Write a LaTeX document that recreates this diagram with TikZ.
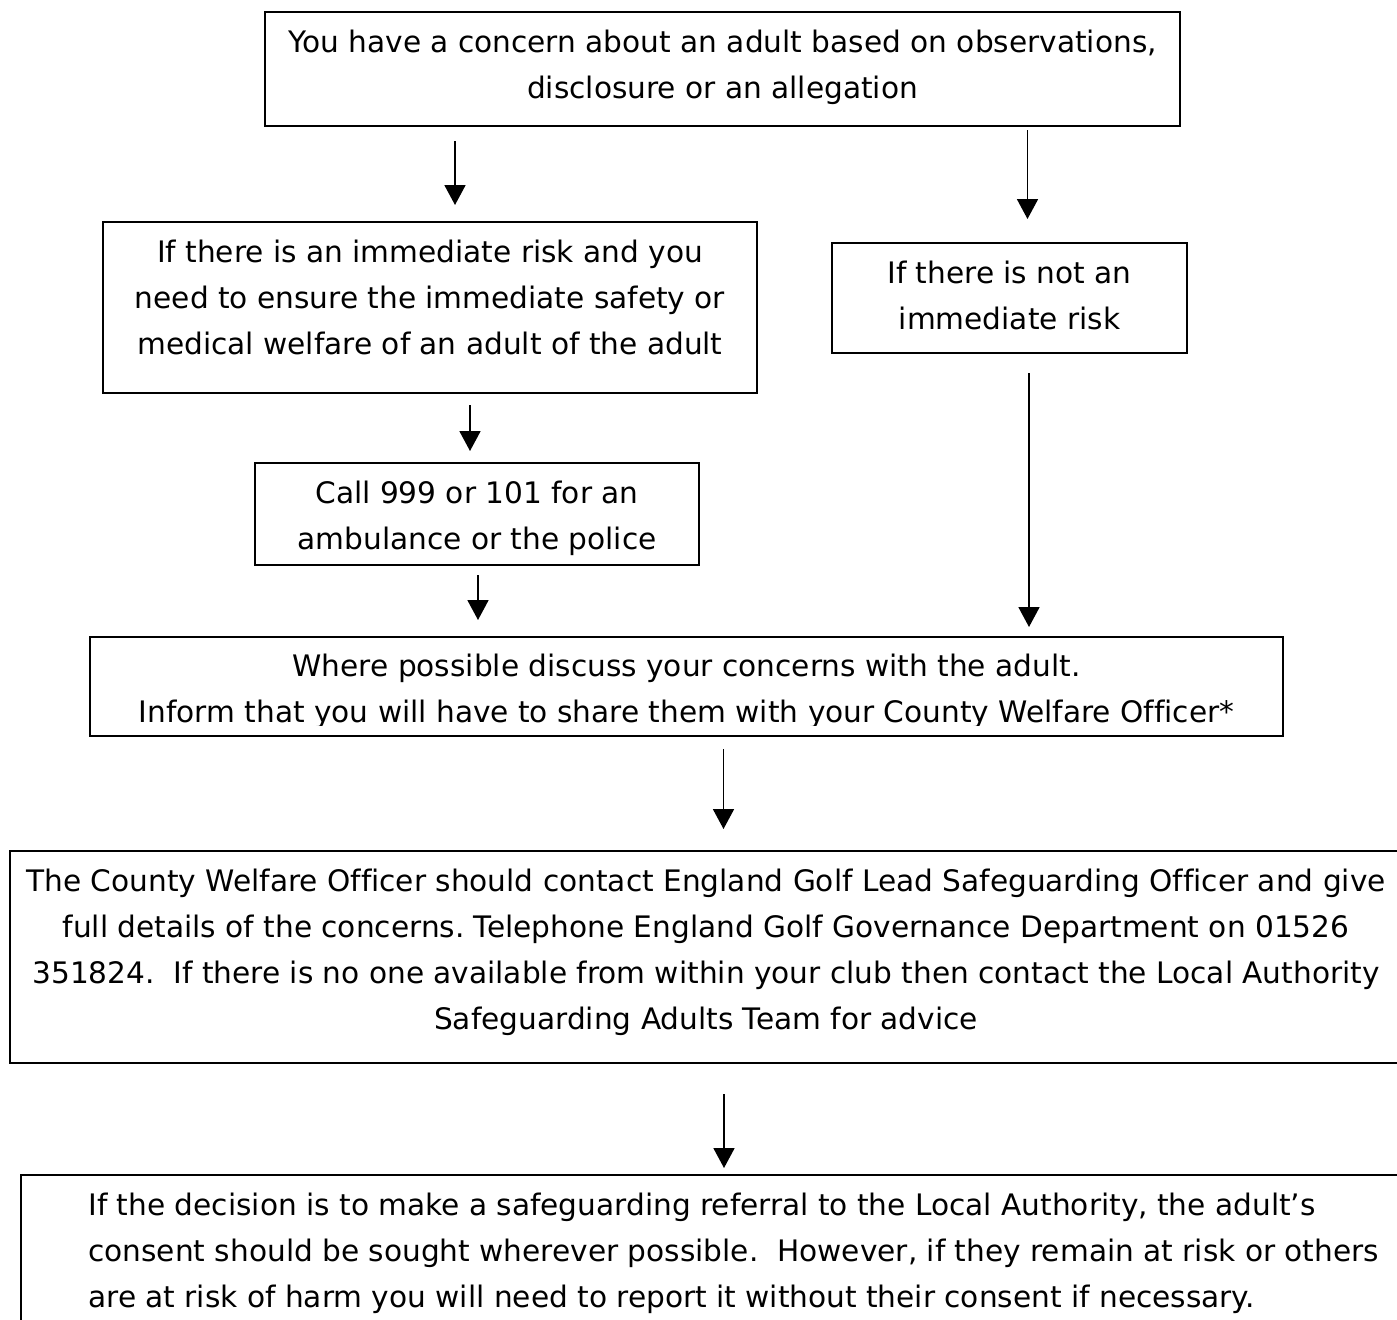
\documentclass[tikz,border=0pt]{standalone}
\usepackage{fontspec}
\setmainfont{DejaVu Sans}[Ligatures=NoCommon]
\usetikzlibrary{arrows.meta}

\tikzset{
  flowbox/.style={draw, line width=1pt, inner sep=0pt},
  flowtext/.style={inner xsep=0pt, inner ysep=4.2pt, align=center,
    font=\fontsize{14.8}{23}\selectfont},
  flowarrow/.style={line width=0.9pt, -{Triangle[width=10.5pt,length=10pt]}}
}

\begin{document}
\frenchspacing
\begin{tikzpicture}[x=0.5pt, y=-0.5pt]
        \clip (0,0) rectangle (1397,1319);

        \node[flowbox, minimum width=457.5pt, minimum height=57pt] (concern) at (722.5, 69) {};
        \node[flowbox, minimum width=327pt, minimum height=85.5pt] (risk) at (430, 307.5) {};
        \node[flowbox, minimum width=177.5pt, minimum height=55pt] (norisk) at (1009.5, 298) {};
        \node[flowbox, minimum width=222pt, minimum height=51pt] (call) at (477, 514) {};
        \node[flowbox, minimum width=596.5pt, minimum height=49.5pt] (discuss) at (686.5, 686.5) {};
        \node[flowbox, minimum width=696pt, minimum height=106pt] (county) at (706, 957) {};
        \node[flowbox, minimum width=694.5pt, minimum height=92.5pt] (decision) at (715.5, 1267.5) {};

        \node[flowtext, anchor=north] (concern-text) at (concern.north)
            {\strut You have a concern about an adult based on observations,\\
             disclosure or an allegation};
        \node[flowtext, anchor=north] (risk-text) at (risk.north)
            {\strut If there is an immediate risk and you\\
             need to ensure the immediate safety or\\
             medical welfare of an adult of the adult};
        \node[flowtext, anchor=north] (norisk-text) at (norisk.north)
            {\strut If there is not an\\ immediate risk};
        \node[flowtext, anchor=north] (call-text) at (call.north)
            {\strut Call 999 or 101 for an\\ ambulance or the police};
        % text of this box is cut off just under its second line
        \begin{scope}
            \clip (discuss.north west) rectangle ([yshift=6pt]discuss.south east);
            \node[flowtext, anchor=north, inner ysep=3.7pt] (discuss-text) at (discuss.north)
                {\strut Where possible discuss your concerns with the adult.\\
                 Inform that you will have to share them with your County Welfare Officer*};
        \end{scope}
        \node[flowtext, anchor=north] (county-text) at (county.north)
            {\strut The County Welfare Officer should contact England Golf Lead Safeguarding Officer and give\\
             full details of the concerns. Telephone England Golf Governance Department on 01526\\
             351824.\ \ If there is no one available from within your club then contact the Local Authority\\
             Safeguarding Adults Team for advice};
        \node[flowtext, anchor=north west, align=left] (decision-text) at ([xshift=34pt]decision.north west)
            {\strut If the decision is to make a safeguarding referral to the Local Authority, the adult’s\\
             consent should be sought wherever possible.\ \ However, if they remain at risk or others\\
             are at risk of harm you will need to report it without their consent if necessary.};

        \draw[flowarrow, shorten <=7pt, shorten >=8pt] ([xshift=-133.75pt]concern.south) -- ([xshift=12.5pt]risk.north);
        \draw[flowarrow, shorten <=1.5pt, shorten >=11.5pt] ([xshift=152.5pt]concern.south) -- ([xshift=9pt]norisk.north);
        \draw[flowarrow, shorten <=5.5pt, shorten >=5.5pt] ([xshift=20pt]risk.south) -- ([xshift=-3.5pt]call.north);
        \draw[flowarrow, shorten <=4.5pt, shorten >=8pt] ([xshift=0.5pt]call.south) -- ([xshift=-104.25pt]discuss.north);
        \draw[flowarrow, shorten <=9.5pt, shorten >=4.5pt] ([xshift=9.75pt]norisk.south) -- ([xshift=171.25pt]discuss.north);
        \draw[flowarrow, shorten <=6pt, shorten >=10.5pt] ([xshift=18.5pt]discuss.south) -- ([xshift=8.75pt]county.north);
        \draw[flowarrow, shorten <=15pt, shorten >=3pt] ([xshift=9pt]county.south) -- ([xshift=4.25pt]decision.north);

    \end{tikzpicture}
\end{document}
